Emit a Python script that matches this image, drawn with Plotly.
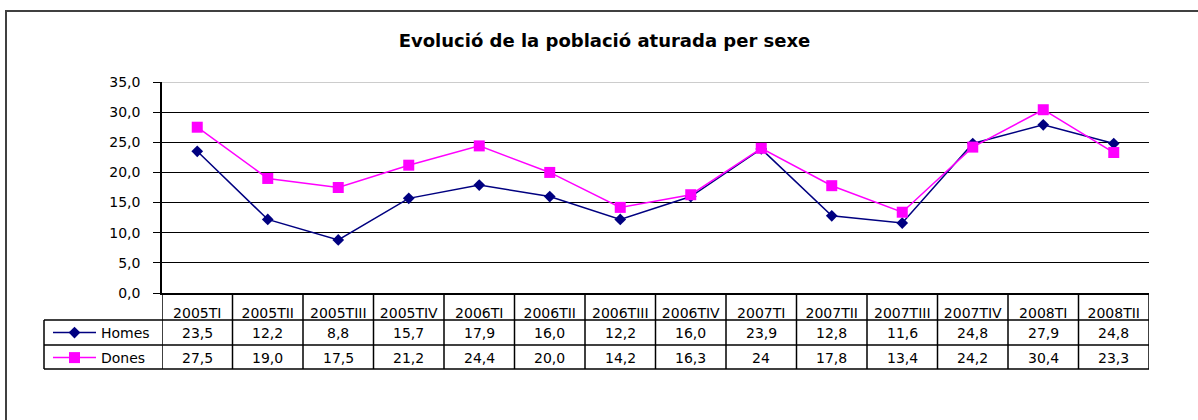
import plotly.graph_objects as go

# ---- data ----
categories = ["2005TI", "2005TII", "2005TIII", "2005TIV", "2006TI", "2006TII", "2006TIII",
              "2006TIV", "2007TI", "2007TII", "2007TIII", "2007TIV", "2008TI", "2008TII"]
homes = [23.5, 12.2, 8.8, 15.7, 17.9, 16.0, 12.2, 16.0, 23.9, 12.8, 11.6, 24.8, 27.9, 24.8]
dones = [27.5, 19.0, 17.5, 21.2, 24.4, 20.0, 14.2, 16.3, 24.0, 17.8, 13.4, 24.2, 30.4, 23.3]
homes_text = ["23,5", "12,2", "8,8", "15,7", "17,9", "16,0", "12,2", "16,0", "23,9", "12,8",
              "11,6", "24,8", "27,9", "24,8"]
dones_text = ["27,5", "19,0", "17,5", "21,2", "24,4", "20,0", "14,2", "16,3", "24", "17,8",
              "13,4", "24,2", "30,4", "23,3"]
y_ticks = [0, 5, 10, 15, 20, 25, 30, 35]
title = "Evolució de la població aturada per sexe"

# ---- layout geometry (pixels) ----
W, H = 1198, 420
L, R, T, B = 162, 49, 82, 127
PW, PH = W - L - R, H - T - B
AXIS_Y = H - B


def px(p):
    return (p - L) / PW


def py(p):
    return (AXIS_Y - p) / PH


FONT = "DejaVu Sans"
ROW1_Y, ROW2_Y = 333, 358
HDR_BOT, ROW_SEP, TBL_BOT, TBL_LEFT = 320, 345, 369, 44

fig = go.Figure()
fig.add_trace(go.Scatter(
    x=categories, y=homes, name="Homes", mode="lines+markers",
    line=dict(color="#000080", width=1.5),
    marker=dict(symbol="diamond", size=9, color="#000080"),
    legend="legend", cliponaxis=False))
fig.add_trace(go.Scatter(
    x=categories, y=dones, name="Dones", mode="lines+markers",
    line=dict(color="#FF00FF", width=1.5),
    marker=dict(symbol="square", size=11, color="#FF00FF"),
    legend="legend2", cliponaxis=False))

shapes = []
line_black = dict(color="black", width=1.5)
n = len(categories)
# vertical table lines at category boundaries
for i in range(n + 1):
    shapes.append(dict(type="line", xref="x", yref="paper", x0=i - 0.5, x1=i - 0.5,
                       y0=py(TBL_BOT), y1=0, line=line_black, layer="above"))
# horizontal table lines
for yy in (HDR_BOT, ROW_SEP, TBL_BOT):
    shapes.append(dict(type="line", xref="paper", yref="paper", x0=px(TBL_LEFT), x1=1,
                       y0=py(yy), y1=py(yy), line=line_black, layer="above"))
# left border of row label column
shapes.append(dict(type="line", xref="paper", yref="paper", x0=px(TBL_LEFT), x1=px(TBL_LEFT),
                   y0=py(TBL_BOT), y1=py(HDR_BOT), line=line_black, layer="above"))
# top grid line (35) in light grey
shapes.append(dict(type="line", xref="paper", yref="y", x0=0, x1=1, y0=35, y1=35,
                   line=dict(color="#cccccc", width=2), layer="above"))
# outer chart frame
shapes.append(dict(type="rect", xref="paper", yref="paper", x0=px(6), x1=px(1260),
                   y0=py(520), y1=py(11), line=dict(color="#404040", width=2),
                   fillcolor="rgba(0,0,0,0)", layer="above"))

annotations = []
for c, ht, dt in zip(categories, homes_text, dones_text):
    annotations.append(dict(x=c, y=py(ROW1_Y), xref="x", yref="paper", text=ht,
                            showarrow=False, font=dict(family=FONT, size=14, color="black"),
                            xanchor="center", yanchor="middle"))
    annotations.append(dict(x=c, y=py(ROW2_Y), xref="x", yref="paper", text=dt,
                            showarrow=False, font=dict(family=FONT, size=14, color="black"),
                            xanchor="center", yanchor="middle"))

legend_common = dict(xanchor="left", yanchor="middle", bgcolor="rgba(0,0,0,0)",
                     borderwidth=0, font=dict(family=FONT, size=14, color="black"),
                     itemwidth=43, itemclick=False, itemdoubleclick=False)

fig.update_layout(
    width=W, height=H,
    margin=dict(l=L, r=R, t=T, b=B, pad=0),
    paper_bgcolor="white", plot_bgcolor="white",
    separators=",.",
    showlegend=True,
    title=dict(text="<b>" + title + "</b>", xref="container", yref="container",
               x=604.5 / W, y=1 - 41 / H, xanchor="center", yanchor="middle",
               font=dict(family="DejaVu Sans", size=18, color="black")),
    xaxis=dict(type="category", categoryorder="array", categoryarray=categories,
               range=[-0.5, n - 0.5], showgrid=False, showline=True,
               linecolor="black", linewidth=1.5, ticks="", ticklabelstandoff=6,
               tickfont=dict(family=FONT, size=14, color="black"), zeroline=False),
    yaxis=dict(range=[0, 35], tickvals=y_ticks, tickformat=".1f", showgrid=True,
               gridcolor="black", gridwidth=1, showline=True, linecolor="black",
               linewidth=1.5, ticks="outside", ticklen=7, tickcolor="black",
               ticklabelstandoff=10, zeroline=False,
               tickfont=dict(family=FONT, size=14, color="black")),
    legend=dict(x=px(48), y=py(ROW1_Y), **legend_common),
    legend2=dict(x=px(48), y=py(ROW2_Y), **legend_common),
    shapes=shapes,
    annotations=annotations,
)

fig.write_html("out.html", config={"displayModeBar": False},
               post_script="document.body.style.margin='0';")
